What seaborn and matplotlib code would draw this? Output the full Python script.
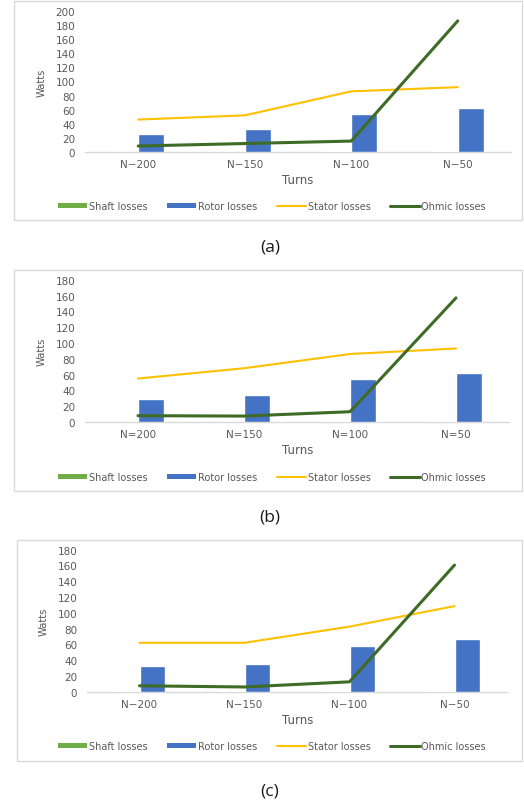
import matplotlib
matplotlib.use("Agg")
import matplotlib.pyplot as plt
from matplotlib.patches import Rectangle, Patch
from matplotlib.lines import Line2D
import pandas as pd
import seaborn as sns

# Category labels (the middle chart uses "=" in its labels)
turns_dash = ["N\u2212200", "N\u2212150", "N\u2212100", "N\u221250"]
turns_eq = ["N=200", "N=150", "N=100", "N=50"]

# (a)
shaft_a = [0, 0, 1, 1]
rotor_a = [25, 32, 54, 63]
stator_a = [46, 52, 86, 92]
ohmic_a = [8.5, 12, 15.5, 186]

# (b)
shaft_b = [0, 0, 1, 1]
rotor_b = [29, 34, 54.5, 62]
stator_b = [55, 68, 86, 93]
ohmic_b = [8, 7.5, 13, 157]

# (c)
shaft_c = [1, 1, 1, 1]
rotor_c = [32.5, 34.5, 58.5, 67]
stator_c = [62, 62, 82.5, 108.5]
ohmic_c = [7.5, 6, 12.5, 160.5]

series_names = ["Shaft losses", "Rotor losses", "Stator losses", "Ohmic losses"]
colors = {
    "Shaft losses": "#70AD47",
    "Rotor losses": "#4472C4",
    "Stator losses": "#FFC000",
    "Ohmic losses": "#3E6B26",
}

sns.set_style("white")
plt.rcParams["font.family"] = ["DejaVu Sans"]

W, H = 524, 804
fig = plt.figure(figsize=(W / 100, H / 100), dpi=100)
fig.patch.set_facecolor("white")


def fx(x):
    return x / W


def fy(y):
    return 1 - y / H


panels = [
    dict(turns=turns_dash, shaft=shaft_a, rotor=rotor_a, stator=stator_a, ohmic=ohmic_a,
         ymax=200, box=(14, 2, 522, 221), axes=(85, 12, 511, 153),
         turns_y=180, legend=(272, 207), caption="(a)", caption_y=248),
    dict(turns=turns_eq, shaft=shaft_b, rotor=rotor_b, stator=stator_b, ohmic=ohmic_b,
         ymax=180, box=(14, 271, 522, 492), axes=(85, 280.7, 509, 423),
         turns_y=451, legend=(272, 478), caption="(b)", caption_y=518),
    dict(turns=turns_dash, shaft=shaft_c, rotor=rotor_c, stator=stator_c, ohmic=ohmic_c,
         ymax=180, box=(17, 541, 522, 762), axes=(87, 550.7, 507, 692.7),
         turns_y=721, legend=(272, 747), caption="(c)", caption_y=792),
]

for p in panels:
    l, t, r, b = p["box"]
    fig.add_artist(Rectangle((fx(l), fy(b)), (r - l) / W, (b - t) / H,
                             transform=fig.transFigure, fill=False,
                             edgecolor="#D9D9D9", linewidth=1))

    al, at, ar, ab = p["axes"]
    ax = fig.add_axes([fx(al), fy(ab), (ar - al) / W, (ab - at) / H])
    ax.set_facecolor("none")

    bars = pd.DataFrame({
        "Turns": p["turns"] * 2,
        "Series": ["Shaft losses"] * 4 + ["Rotor losses"] * 4,
        "Watts": p["shaft"] + p["rotor"],
    })
    sns.barplot(data=bars, x="Turns", y="Watts", hue="Series",
                hue_order=["Shaft losses", "Rotor losses"],
                palette={k: colors[k] for k in ["Shaft losses", "Rotor losses"]},
                width=0.49, saturation=1, legend=False, ax=ax, zorder=1.5)

    for name, vals, lw in [("Stator losses", p["stator"], 1.5),
                           ("Ohmic losses", p["ohmic"], 2.2)]:
        sns.pointplot(x=p["turns"], y=vals, color=colors[name], marker="",
                      linewidth=lw, errorbar=None, legend=False, ax=ax, zorder=3)

    ax.set_xlim(-0.5, 3.5)
    ax.set_ylim(0, p["ymax"])
    ax.set_yticks(range(0, p["ymax"] + 1, 20))
    ax.set_xlabel("")
    ax.set_ylabel("")
    for side in ["left", "top", "right"]:
        ax.spines[side].set_visible(False)
    ax.spines["bottom"].set_color("#D9D9D9")
    ax.spines["bottom"].set_linewidth(1)
    ax.spines["bottom"].set_zorder(0.5)
    ax.tick_params(axis="both", length=0, labelsize=7.5, colors="#595959")
    ax.tick_params(axis="y", pad=7)
    ax.tick_params(axis="x", pad=5)
    ax.grid(False)

    fig.text(fx(al - 43), fy((at + ab) / 2), "Watts", rotation=90,
             ha="center", va="center", fontsize=7.2, color="#595959")
    fig.text(fx(298), fy(p["turns_y"]), "Turns", ha="center", va="center",
             fontsize=8.5, color="#595959")

    handles = [
        Patch(facecolor=colors["Shaft losses"], edgecolor="none"),
        Patch(facecolor=colors["Rotor losses"], edgecolor="none"),
        Line2D([], [], color=colors["Stator losses"], linewidth=1.5),
        Line2D([], [], color=colors["Ohmic losses"], linewidth=2.2),
    ]
    lx, ly = p["legend"]
    fig.legend(handles, series_names, loc="center",
               bbox_to_anchor=(fx(lx), fy(ly)), bbox_transform=fig.transFigure,
               ncol=4, frameon=False, fontsize=7, labelcolor="#595959",
               handlelength=3, handleheight=0.45, handletextpad=0.2,
               columnspacing=2.0, borderaxespad=0, borderpad=0)

    fig.text(fx(270), fy(p["caption_y"]), p["caption"], ha="center", va="center",
             fontsize=12.5, family=["Open Sans", "DejaVu Sans"], color="#1a1a1a")

fig.savefig("out.png", dpi=100, facecolor="white")
